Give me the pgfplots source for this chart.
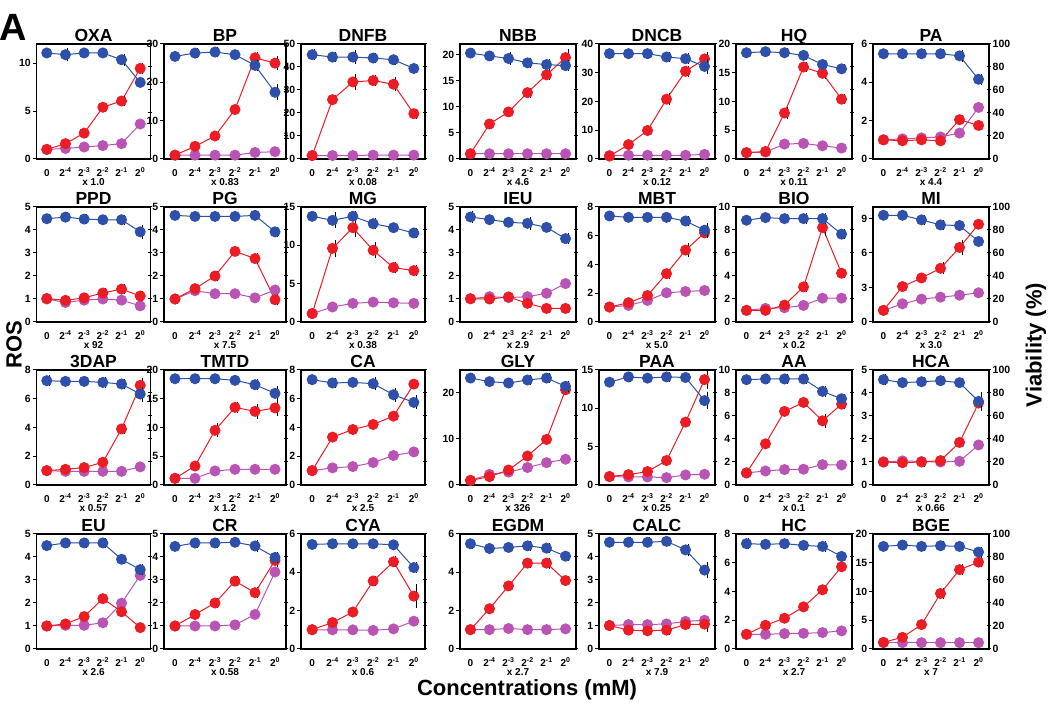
\documentclass[border=0pt]{standalone}
\usepackage{fontspec}
\setmainfont{Liberation Sans}
\usepackage{pgfplots}
\pgfplotsset{compat=1.18}
\definecolor{vb}{RGB}{46,80,170}
\definecolor{rr}{RGB}{236,28,36}
\definecolor{mm}{RGB}{186,84,180}
\pgfplotsset{
 base/.style={scale only axis, height=115pt, anchor=north,
   xmin=-0.55, xmax=5.55, ymin=0, clip=false,
   axis line style={line width=1.3pt}, tick style={line width=1pt, black},
   major tick length=4pt,
   ticklabel style={font=\bfseries\fontsize{10.5}{12}\selectfont},
   /pgf/number format/assume math mode=true},
 lpanel/.style={base, xtick={0,1,2,3,4,5},
   xticklabels={0,2\textsuperscript{-4},2\textsuperscript{-3},2\textsuperscript{-2},2\textsuperscript{-1},2\textsuperscript{0}},
   xtick style={draw=none}, xtick pos=bottom, ytick pos=left, tick align=outside,
   xticklabel style={anchor=base, yshift=-13.5pt, font=\bfseries\fontsize{10}{12}\selectfont},
   yticklabel style={inner sep=1.5pt},
   title style={font=\bfseries\fontsize{17.5}{19}\selectfont, at={(0.5,1)}, anchor=base, yshift=-3.5pt, inner sep=0pt},
   xlabel style={font=\bfseries\fontsize{10}{12}\selectfont, at={(axis description cs:0.5,0)}, anchor=base, yshift=-26.5pt, inner sep=0pt}},
 rpanel/.style={base, ymax=100, axis x line=none, axis y line*=right,
   ytick={0,20,40,60,80,100}, tick align=center, yticklabel style={inner sep=1.5pt}},
 rnolab/.style={yticklabels={}},
 showr/.style={},
 ebar/.style={/pgfplots/error bars/y dir=both,
   /pgfplots/error bars/error bar style={black, line width=1pt, xshift=2.5pt},
   /pgfplots/error bars/error mark options={black, line width=1pt, mark size=3.5pt}},
 mser/.style={mm, line width=1pt, mark=*, mark size=5pt, mark options={solid, fill=mm, draw=mm}, ebar, /pgfplots/error bars/y fixed=0},
 rser/.style={rr, line width=1pt, mark=*, mark size=5pt, mark options={solid, fill=rr, draw=rr}, ebar, /pgfplots/error bars/y explicit},
 bser/.style={vb, line width=1pt, mark=*, mark size=5pt, mark options={solid, fill=vb, draw=vb}, ebar, /pgfplots/error bars/y explicit},
}
% #1 x centre, #2 top, #3 title, #4 factor, #5 ymax, #6 yticks, #7 data, #8 right style, #9 width
\newcommand{\panel}[9]{%
 \begin{axis}[lpanel, width=#9pt, at={(#1pt,#2pt)}, ymax=#5, ytick={#6}, title={#3}, xlabel={x #4}]
 \addplot[mser] table[x=x, y=m, row sep=\\]{#7};
 \addplot[rser] table[x=x, y=r, y error=re, row sep=\\]{#7};
 \end{axis}
 \begin{axis}[rpanel, #8, width=#9pt, at={(#1pt,#2pt)}]
 \addplot[bser] table[x=x, y=v, y error=ve, row sep=\\]{#7};
 \end{axis}}
\begin{document}
\begin{tikzpicture}[x=1pt,y=1pt]
\path[use as bounding box] (0,0) rectangle (1050,706);
% ---------- row 1 ----------
\panel{93.5}{662}{OXA}{1.0}{12}{0,5,10}{x v ve r re m \\ 0 92.2 0.5 1.0 0.05 1.0 \\ 1 90.7 2.5 1.6 0.1 1.1 \\ 2 92.2 0.8 2.7 0.1 1.25 \\ 3 92.2 0.8 5.4 0.1 1.4 \\ 4 86.3 2.0 6.05 0.2 1.6 \\ 5 66.6 1.0 9.45 0.2 3.65 \\}{rnolab}{114}
\panel{225}{662}{BP}{0.83}{30}{0,10,20,30}{x v ve r re m \\ 0 89.2 1 1.0 0.1 1.0 \\ 1 92.1 1 3.3 0.2 1.0 \\ 2 93.0 1 6.0 0.2 1.0 \\ 3 90.7 1 12.9 0.3 1.0 \\ 4 81.4 2 26.4 0.5 1.7 \\ 5 58.0 4 25.0 1.0 1.9 \\}{rnolab}{122}
\panel{363}{662}{DNFB}{0.08}{50}{0,10,20,30,40,50}{x v ve r re m \\ 0 90.7 2 1.5 0.1 1.5 \\ 1 88.6 1.5 25.8 0.5 1.5 \\ 2 88.6 3 33.5 1.8 1.5 \\ 3 87.8 1.5 34.1 0.7 1.7 \\ 4 86.3 1.5 32.5 1.5 1.7 \\ 5 78.7 1 19.7 0.6 1.7 \\}{rnolab}{124}
\panel{518}{662}{NBB}{4.6}{22}{0,5,10,15,20}{x v ve r re m \\ 0 92.1 1 1.0 0.1 1.0 \\ 1 89.6 1.5 6.7 0.2 1.0 \\ 2 87.4 3 9.0 0.2 1.0 \\ 3 83.6 1.5 12.7 0.3 1.0 \\ 4 82.1 1.5 16.1 0.3 1.0 \\ 5 81.2 2 19.4 0.9 1.0 \\}{rnolab}{116}
\panel{657}{662}{DNCB}{0.12}{40}{0,10,20,30,40}{x v ve r re m \\ 0 91.6 1 1.0 0.1 1.2 \\ 1 91.6 1 5.0 0.2 1.3 \\ 2 91.6 1 9.9 0.2 1.3 \\ 3 88.7 1 20.8 0.8 1.3 \\ 4 87.2 1.5 30.5 0.6 1.3 \\ 5 80.5 3.5 34.8 1.3 1.6 \\}{rnolab}{116}
\panel{794}{662}{HQ}{0.11}{20}{0,5,10,15,20}{x v ve r re m \\ 0 92.4 1 1.1 0.1 1.1 \\ 1 93.3 1 1.3 0.1 1.2 \\ 2 92.4 1 8.0 0.4 2.6 \\ 3 90.1 1 16.0 0.3 2.7 \\ 4 82.2 1 14.9 0.4 2.3 \\ 5 78.4 1 10.4 0.3 1.9 \\}{rnolab}{116}
\panel{931}{662}{PA}{4.4}{6}{0,2,4,6}{x v ve r re m \\ 0 91.5 1 1.0 0.05 1.0 \\ 1 91.5 1 0.95 0.05 1.05 \\ 2 91.5 1 1.0 0.05 1.1 \\ 3 91.5 1 0.95 0.05 1.15 \\ 4 89.7 2 2.05 0.05 1.35 \\ 5 69.3 1.5 1.75 0.05 2.69 \\}{showr}{116}
% ---------- row 2 ----------
\panel{93.5}{499}{PPD}{92}{5}{0,1,2,3,4,5}{x v ve r re m \\ 0 89.8 1 1.02 0.05 1.0 \\ 1 91.2 1 0.94 0.05 0.85 \\ 2 89.5 1 1.05 0.05 0.95 \\ 3 88.9 1 1.26 0.05 1.0 \\ 4 88.9 1.5 1.43 0.05 0.95 \\ 5 78.4 3 1.13 0.05 0.70 \\}{rnolab}{114}
\panel{225}{499}{PG}{7.5}{5}{0,1,2,3,4,5}{x v ve r re m \\ 0 92.7 1 1.0 0.05 1.0 \\ 1 91.8 1 1.45 0.05 1.36 \\ 2 91.8 1 2.0 0.08 1.23 \\ 3 91.8 1 3.07 0.05 1.23 \\ 4 92.7 1 2.76 0.08 1.05 \\ 5 78.4 1.5 0.97 0.1 1.39 \\}{rnolab}{122}
\panel{363}{499}{MG}{0.38}{15}{0,5,10,15}{x v ve r re m \\ 0 91.9 1 1.1 0.1 1.1 \\ 1 88.4 4 9.6 0.7 1.96 \\ 2 91.9 1.5 12.3 0.7 2.43 \\ 3 85.5 2 9.35 0.6 2.6 \\ 4 82.0 1 7.1 0.3 2.5 \\ 5 77.4 1 6.7 0.3 2.43 \\}{rnolab}{124}
\panel{518}{499}{IEU}{2.9}{5}{0,1,2,3,4,5}{x v ve r re m \\ 0 91.3 2 1.01 0.05 1.01 \\ 1 89.0 1 1.0 0.05 1.1 \\ 2 86.7 1 1.09 0.05 1.06 \\ 3 85.8 2.5 0.81 0.05 1.1 \\ 4 82.3 1 0.59 0.05 1.25 \\ 5 72.5 2 0.59 0.05 1.67 \\}{rnolab}{116}
\panel{657}{499}{MBT}{5.0}{8}{0,2,4,6,8}{x v ve r re m \\ 0 92.2 1 1.04 0.05 1.04 \\ 1 91.0 1 1.34 0.05 1.15 \\ 2 91.0 1 1.84 0.05 1.5 \\ 3 91.0 1 3.36 0.1 2.03 \\ 4 87.8 1 5.0 0.25 2.12 \\ 5 79.8 3 6.2 0.1 2.19 \\}{rnolab}{116}
\panel{794}{499}{BIO}{0.2}{10}{0,2,4,6,8,10}{x v ve r re m \\ 0 88.5 1 1.01 0.05 1.01 \\ 1 90.8 1 1.01 0.05 1.18 \\ 2 89.9 1 1.47 0.05 1.24 \\ 3 89.9 2 3.05 0.1 1.44 \\ 4 89.9 2 8.21 0.4 2.07 \\ 5 76.4 1 4.24 0.1 2.07 \\}{rnolab}{116}
\panel{931}{499}{MI}{3.0}{10}{0,3,6,9}{x v ve r re m \\ 0 92.8 1 1.01 0.05 1.01 \\ 1 92.8 1 3.08 0.05 1.58 \\ 2 88.8 1 3.83 0.05 1.99 \\ 3 84.4 1 4.67 0.2 2.16 \\ 4 83.9 1 6.48 0.35 2.33 \\ 5 70.0 1 8.5 0.05 2.54 \\}{showr}{116}
% ---------- row 3 ----------
\panel{93.5}{336}{3DAP}{0.57}{8}{0,2,4,6,8}{x v ve r re m \\ 0 90.7 2 1.0 0.05 1.0 \\ 1 90.1 1 1.09 0.05 0.95 \\ 2 90.1 1 1.21 0.05 0.95 \\ 3 89.2 2 1.58 0.05 0.95 \\ 4 87.8 1.5 3.9 0.1 0.95 \\ 5 79.1 3.5 6.93 0.25 1.26 \\}{rnolab}{114}
\panel{225}{336}{TMTD}{1.2}{20}{0,5,10,15,20}{x v ve r re m \\ 0 92.4 1 1.16 0.05 1.16 \\ 1 92.4 1 3.3 0.1 1.16 \\ 2 92.4 1 9.5 0.6 2.44 \\ 3 91.0 1 13.5 0.3 2.73 \\ 4 87.2 1.5 12.8 0.7 2.73 \\ 5 79.7 3 13.4 0.8 2.73 \\}{rnolab}{122}
\panel{363}{336}{CA}{2.5}{8}{0,2,4,6,8}{x v ve r re m \\ 0 91.6 1 1.0 0.05 1.0 \\ 1 88.7 1.5 3.33 0.05 1.19 \\ 2 89.2 1 3.86 0.05 1.28 \\ 3 88.1 2.5 4.21 0.05 1.56 \\ 4 78.5 3 4.79 0.05 2.05 \\ 5 71.8 3 7.02 0.05 2.3 \\}{rnolab}{124}
\panel{518}{336}{GLY}{326}{25}{0,10,20}{x v ve r re m \\ 0 93.0 1 1.0 0.05 1.0 \\ 1 89.9 1 1.81 0.05 2.3 \\ 2 88.7 1 3.26 0.05 2.8 \\ 3 91.3 1 6.3 0.05 3.8 \\ 4 93.0 1 9.9 0.05 4.85 \\ 5 85.8 2 20.7 0.2 5.6 \\}{rnolab}{116}
\panel{657}{336}{PAA}{0.25}{15}{0,5,10,15}{x v ve r re m \\ 0 89.4 1 1.1 0.05 1.1 \\ 1 94.0 1 1.35 0.05 1.05 \\ 2 92.9 1 1.75 0.05 1.05 \\ 3 94.0 1 3.19 0.05 0.96 \\ 4 93.5 1 8.2 0.1 1.31 \\ 5 73.4 4.5 13.75 0.8 1.4 \\}{rnolab}{116}
\panel{794}{336}{AA}{0.1}{10}{0,2,4,6,8,10}{x v ve r re m \\ 0 91.6 1 1.05 0.05 1.05 \\ 1 92.2 1 3.58 0.05 1.22 \\ 2 92.2 1 6.4 0.05 1.34 \\ 3 92.2 1 7.18 0.1 1.37 \\ 4 81.4 1.5 5.58 0.3 1.77 \\ 5 75.0 1 7.03 0.15 1.74 \\}{rnolab}{116}
\panel{931}{336}{HCA}{0.66}{5}{0,1,2,3,4,5}{x v ve r re m \\ 0 91.6 1.5 1.0 0.05 1.0 \\ 1 89.0 1 0.97 0.05 1.05 \\ 2 89.8 1 1.0 0.05 1.02 \\ 3 90.7 1 1.06 0.05 1.0 \\ 4 89.0 1 1.85 0.05 1.03 \\ 5 72.7 5 3.56 0.15 1.74 \\}{showr}{116}
% ---------- row 4 ----------
\panel{93.5}{172}{EU}{2.6}{5}{0,1,2,3,4,5}{x v ve r re m \\ 0 89.9 1 1.0 0.05 1.0 \\ 1 92.2 1 1.09 0.05 1.03 \\ 2 92.2 1 1.41 0.05 1.03 \\ 3 92.2 1 2.19 0.05 1.14 \\ 4 78.0 1 1.62 0.05 1.99 \\ 5 69.0 1.5 0.93 0.05 3.2 \\}{rnolab}{114}
\panel{225}{172}{CR}{0.58}{5}{0,1,2,3,4,5}{x v ve r re m \\ 0 89.2 1 1.0 0.05 1.0 \\ 1 92.2 1 1.5 0.05 1.0 \\ 2 92.2 1 2.0 0.05 1.0 \\ 3 92.8 1 2.95 0.05 1.05 \\ 4 89.6 2 2.45 0.1 1.5 \\ 5 79.6 2 3.85 0.15 3.35 \\}{rnolab}{122}
\panel{363}{172}{CYA}{0.6}{6}{0,2,4,6}{x v ve r re m \\ 0 90.9 1 1.01 0.05 1.0 \\ 1 91.5 1 1.38 0.05 1.0 \\ 2 91.5 1 1.93 0.05 1.0 \\ 3 91.5 1 3.55 0.1 0.97 \\ 4 90.6 1 4.55 0.1 1.05 \\ 5 70.8 1.5 2.76 0.45 1.45 \\}{rnolab}{124}
\panel{518}{172}{EGDM}{2.7}{6}{0,2,4,6}{x v ve r re m \\ 0 91.5 1.5 1.01 0.05 1.01 \\ 1 87.4 1 2.1 0.05 1.01 \\ 2 88.3 1 3.29 0.05 1.07 \\ 3 89.7 1.5 4.48 0.05 1.01 \\ 4 87.7 1 4.48 0.1 1.01 \\ 5 80.7 1 3.57 0.05 1.05 \\}{rnolab}{116}
\panel{657}{172}{CALC}{7.9}{5}{0,1,2,3,4,5}{x v ve r re m \\ 0 92.8 1 1.02 0.05 1.02 \\ 1 92.8 1.5 0.82 0.05 1.06 \\ 2 92.8 1.5 0.79 0.05 1.06 \\ 3 93.6 1 0.82 0.05 1.09 \\ 4 86.2 2 1.06 0.05 1.2 \\ 5 68.6 4 1.08 0.2 1.25 \\}{rnolab}{116}
\panel{794}{172}{HC}{2.7}{8}{0,2,4,6,8}{x v ve r re m \\ 0 91.6 2 1.02 0.05 1.02 \\ 1 91.0 1 1.65 0.05 1.02 \\ 2 91.6 1 2.14 0.05 1.07 \\ 3 90.1 1 2.93 0.05 1.09 \\ 4 89.2 2 4.12 0.05 1.14 \\ 5 80.5 1 5.72 0.05 1.26 \\}{rnolab}{116}
\panel{931}{172}{BGE}{7}{20}{0,5,10,15,20}{x v ve r re m \\ 0 89.2 1 1.16 0.05 1.1 \\ 1 90.4 1 2.03 0.05 1.1 \\ 2 89.2 1 4.24 0.05 1.1 \\ 3 89.8 1 9.65 0.3 1.1 \\ 4 89.2 1 13.8 0.3 1.1 \\ 5 84.3 1 15.1 0.3 1.1 \\}{showr}{116}
% ---------- labels ----------
\node[rotate=90, font=\bfseries\fontsize{22}{24}\selectfont] at (14,361) {ROS};
\node[rotate=90, font=\bfseries\fontsize{22}{24}\selectfont] at (1036,361) {Viability (\%)};
\node[font=\bfseries\fontsize{22}{24}\selectfont] at (527,16) {Concentrations (mM)};
\node[anchor=north west, inner sep=0pt, font=\bfseries\fontsize{38}{38}\selectfont] at (-1,692) {A};
\end{tikzpicture}
\end{document}
